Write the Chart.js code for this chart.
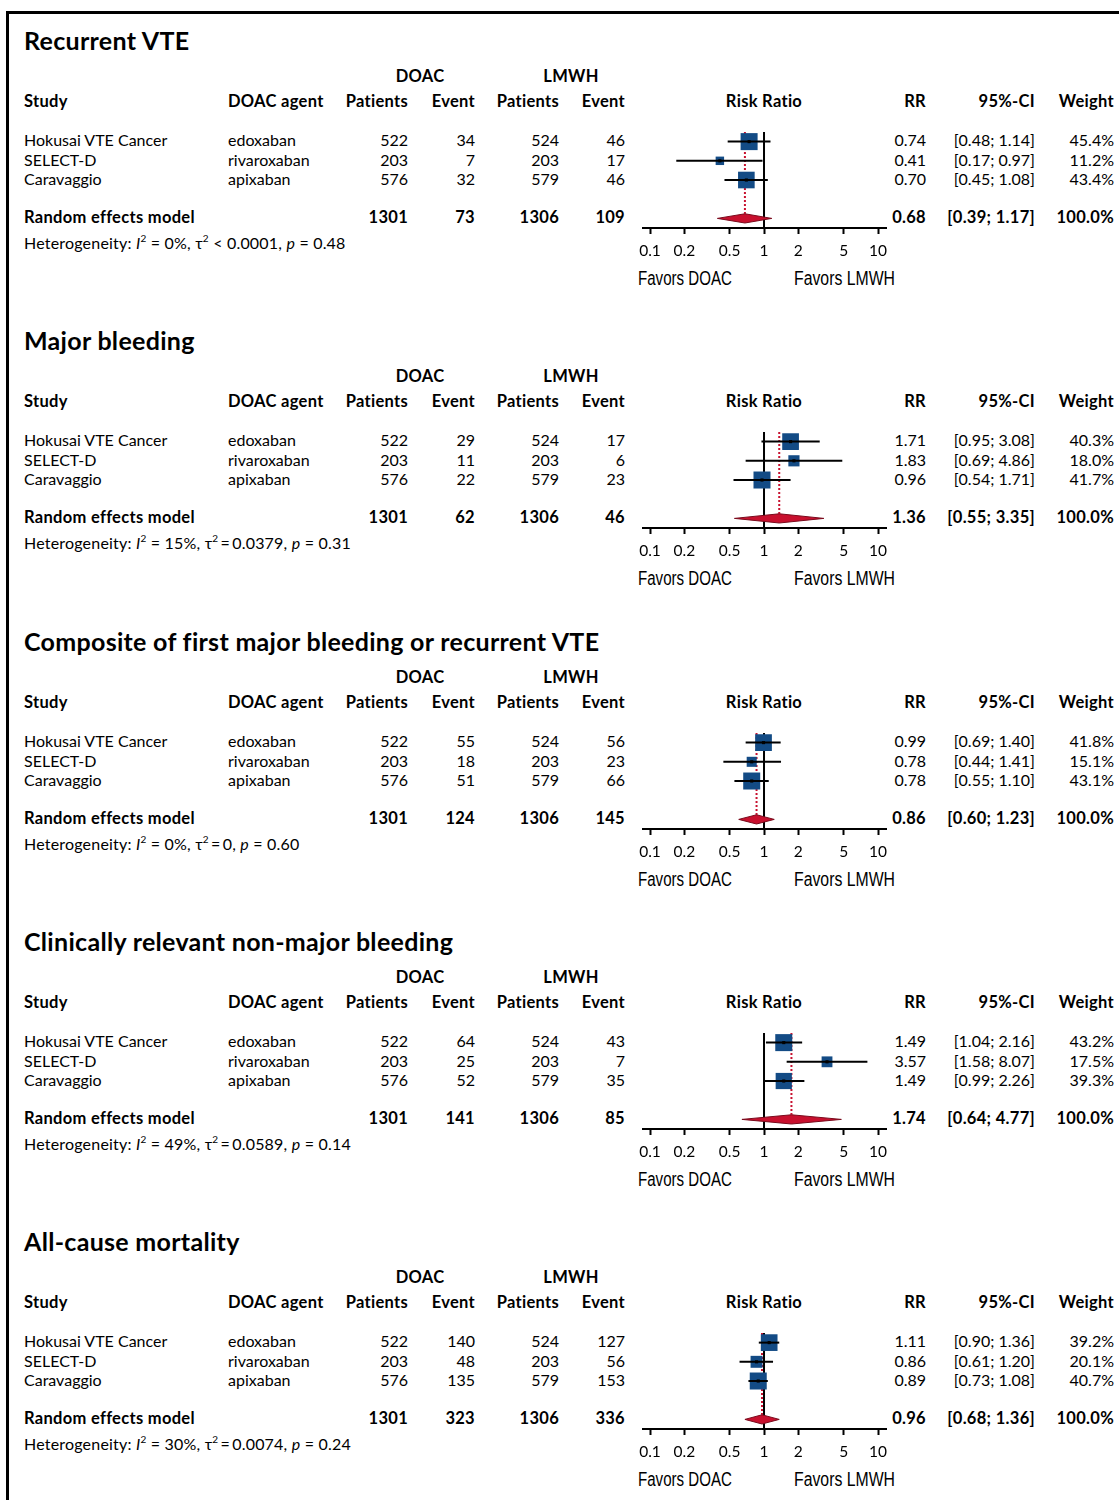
<!DOCTYPE html>
<html>
<head>
<meta charset="utf-8">
<title>DOAC vs LMWH – forest plots</title>
<script src="https://cdn.jsdelivr.net/npm/chart.js@4.4.1/dist/chart.umd.min.js"></script>
<style>
  html, body { margin: 0; padding: 0; background: #fff; }
  #page { position: relative; width: 1119px; height: 1500px; overflow: hidden;
          font-family: Lato, "Open Sans", sans-serif; color: #000; }
  .frame-top { position: absolute; left: 6px; top: 11px; right: 0; height: 3px; background: #000; }
  .frame-left { position: absolute; left: 6px; top: 11px; width: 3px; bottom: 0; background: #000; }
  .t { position: absolute; white-space: nowrap; line-height: 1; transform: translateY(-50%);
       font-size: 16px; }
  .b { font-weight: 700; font-size: 16.5px; letter-spacing: 0.3px; }
  .het { letter-spacing: 0.2px; }
  .title { font-size: 25px; font-weight: 700; letter-spacing: 0.3px; }
  .fav { font-family: "Liberation Sans", Arial, sans-serif; font-size: 20px; transform-origin: 0 50%; }
  .plot { position: absolute; }
  sup { font-size: 10px; line-height: 0; vertical-align: 7px; }
</style>
</head>
<body>
<div id="page">
  <div class="frame-top"></div>
  <div class="frame-left"></div>
</div>
<script>
// ---- data ----
const outcomes = [
  'Recurrent VTE',
  'Major bleeding',
  'Composite of first major bleeding or recurrent VTE',
  'Clinically relevant non-major bleeding',
  'All-cause mortality'
];
const studies = ['Hokusai VTE Cancer', 'SELECT-D', 'Caravaggio'];
const agents = ['edoxaban', 'rivaroxaban', 'apixaban'];
const doacPatients = [522, 203, 576];
const lmwhPatients = [524, 203, 579];
const doacEvents = [[34, 7, 32], [29, 11, 22], [55, 18, 51], [64, 25, 52], [140, 48, 135]];
const lmwhEvents = [[46, 17, 46], [17, 6, 23], [56, 23, 66], [43, 7, 35], [127, 56, 153]];
const riskRatio = [[0.74, 0.41, 0.70], [1.71, 1.83, 0.96], [0.99, 0.78, 0.78], [1.49, 3.57, 1.49], [1.11, 0.86, 0.89]];
const ciLower = [[0.48, 0.17, 0.45], [0.95, 0.69, 0.54], [0.69, 0.44, 0.55], [1.04, 1.58, 0.99], [0.90, 0.61, 0.73]];
const ciUpper = [[1.14, 0.97, 1.08], [3.08, 4.86, 1.71], [1.40, 1.41, 1.10], [2.16, 8.07, 2.26], [1.36, 1.20, 1.08]];
const weights = [[45.4, 11.2, 43.4], [40.3, 18.0, 41.7], [41.8, 15.1, 43.1], [43.2, 17.5, 39.3], [39.2, 20.1, 40.7]];
const pooledRR = [0.68, 1.36, 0.86, 1.74, 0.96];
const pooledLower = [0.39, 0.55, 0.60, 0.64, 0.68];
const pooledUpper = [1.17, 3.35, 1.23, 4.77, 1.36];
const hetI2 = ['0%', '15%', '0%', '49%', '30%'];
const hetTau2 = ['< 0.0001', '= 0.0379', '= 0', '= 0.0589', '= 0.0074'];
const hetP = ['0.48', '0.31', '0.60', '0.14', '0.24'];
const xTicks = [0.1, 0.2, 0.5, 1, 2, 5, 10];

// ---- layout ----
const page = document.getElementById('page');
const panelTops = [0, 300, 601, 901, 1201];
const BLUE = '#134b85';
const RED = '#c8102e';

function put(html, x, y, opts = {}) {
  const el = document.createElement('div');
  el.className = 't ' + (opts.cls || '');
  el.innerHTML = html;
  const align = opts.align || 'left';
  if (align === 'left') {
    el.style.left = x + 'px';
  } else if (align === 'right') {
    el.style.left = (x - 300) + 'px';
    el.style.width = '300px';
    el.style.textAlign = 'right';
  } else {
    el.style.left = (x - 150) + 'px';
    el.style.width = '300px';
    el.style.textAlign = 'center';
  }
  el.style.top = y + 'px';
  page.appendChild(el);
  return el;
}

// condensed caption: squeeze the text horizontally to the given width
function putCondensed(text, x, y, width) {
  const el = put(text, x, y, { cls: 'fav' });
  const w = el.getBoundingClientRect().width;
  el.style.transform = 'translateY(-50%) scaleX(' + (width / w).toFixed(3) + ')';
  return el;
}

const fmt2 = v => v.toFixed(2);
const sum = a => a.reduce((s, v) => s + v, 0);

// column anchors
const X_STUDY = 24, X_AGENT = 228, X_DP = 408, X_DE = 475, X_LP = 559, X_LE = 625;
const X_RR = 926, X_CI = 1035, X_W = 1114;
const ROW_Y = [140, 159.5, 179];

function table(k, top) {
  put(outcomes[k], X_STUDY, top + 40, { cls: 'title' });
  put('DOAC', 420, top + 76, { cls: 'b', align: 'center' });
  put('LMWH', 571, top + 76, { cls: 'b', align: 'center' });
  const hy = top + 101;
  put('Study', X_STUDY, hy, { cls: 'b' });
  put('DOAC agent', X_AGENT, hy, { cls: 'b' });
  put('Patients', X_DP, hy, { cls: 'b', align: 'right' });
  put('Event', X_DE, hy, { cls: 'b', align: 'right' });
  put('Patients', X_LP, hy, { cls: 'b', align: 'right' });
  put('Event', X_LE, hy, { cls: 'b', align: 'right' });
  put('Risk Ratio', 764, hy, { cls: 'b', align: 'center' });
  put('RR', X_RR, hy, { cls: 'b', align: 'right' });
  put('95%-CI', X_CI, hy, { cls: 'b', align: 'right' });
  put('Weight', X_W, hy, { cls: 'b', align: 'right' });

  studies.forEach((s, i) => {
    const y = top + ROW_Y[i];
    put(s, X_STUDY, y);
    put(agents[i], X_AGENT, y);
    put(doacPatients[i], X_DP, y, { align: 'right' });
    put(doacEvents[k][i], X_DE, y, { align: 'right' });
    put(lmwhPatients[i], X_LP, y, { align: 'right' });
    put(lmwhEvents[k][i], X_LE, y, { align: 'right' });
    put(fmt2(riskRatio[k][i]), X_RR, y, { align: 'right' });
    put('[' + fmt2(ciLower[k][i]) + '; ' + fmt2(ciUpper[k][i]) + ']', X_CI, y, { align: 'right' });
    put(weights[k][i].toFixed(1) + '%', X_W, y, { align: 'right' });
  });

  const sy = top + 217;
  put('Random effects model', X_STUDY, sy, { cls: 'b' });
  put(sum(doacPatients), X_DP, sy, { cls: 'b', align: 'right' });
  put(sum(doacEvents[k]), X_DE, sy, { cls: 'b', align: 'right' });
  put(sum(lmwhPatients), X_LP, sy, { cls: 'b', align: 'right' });
  put(sum(lmwhEvents[k]), X_LE, sy, { cls: 'b', align: 'right' });
  put(fmt2(pooledRR[k]), X_RR, sy, { cls: 'b', align: 'right' });
  put('[' + fmt2(pooledLower[k]) + '; ' + fmt2(pooledUpper[k]) + ']', X_CI, sy, { cls: 'b', align: 'right' });
  put('100.0%', X_W, sy, { cls: 'b', align: 'right' });

  const tau = hetTau2[k].startsWith('<')
    ? ' ' + hetTau2[k]
    : hetTau2[k].replace(/^= /, '&thinsp;=&thinsp;');
  put('Heterogeneity: <i>I</i><sup>2</sup> = ' + hetI2[k] + ', &tau;<sup>2</sup>' + tau +
      ', <i>p</i> = ' + hetP[k], X_STUDY, top + 243, { cls: 'het' });

  putCondensed('Favors DOAC', 638, top + 278, 94);
  putCondensed('Favors LMWH', 794, top + 278, 101);
}

// ---- forest plot per outcome ----
const SUMMARY_ROW = 4;
const DIAMOND_HALF = 0.24;
const MAX_SIDE = 17;

function forest(k, top) {
  const box = document.createElement('div');
  box.className = 'plot';
  box.style.left = '620px';
  box.style.top = (top + 120) + 'px';
  box.style.width = '280px';
  box.style.height = '146px';
  const canvas = document.createElement('canvas');
  canvas.width = 280;
  canvas.height = 146;
  box.appendChild(canvas);
  page.appendChild(box);

  const wMax = Math.max(...weights[k]);
  const radii = weights[k].map(w => MAX_SIDE * Math.sqrt(w / wMax) / Math.SQRT2);
  const rows = studies.map((_, i) => i);

  const datasets = [];
  // line of no effect
  datasets.push({
    type: 'line', data: [{ x: 1, y: -0.5 }, { x: 1, y: 4.5 }],
    borderColor: '#000', borderWidth: 2, pointRadius: 0, order: 5
  });
  // pooled estimate reference
  datasets.push({
    type: 'line', data: [{ x: pooledRR[k], y: -0.5 }, { x: pooledRR[k], y: SUMMARY_ROW - DIAMOND_HALF }],
    borderColor: RED, borderWidth: 2, borderDash: [2, 2], pointRadius: 0, order: 6
  });
  // study weights as squares
  datasets.push({
    type: 'scatter', data: rows.map(i => ({ x: riskRatio[k][i], y: i })),
    pointStyle: 'rect', pointRadius: radii, pointBackgroundColor: BLUE,
    pointBorderWidth: 0, order: 4
  });
  // confidence intervals
  rows.forEach(i => {
    datasets.push({
      type: 'line', data: [{ x: ciLower[k][i], y: i }, { x: ciUpper[k][i], y: i }],
      borderColor: '#000', borderWidth: 2, pointRadius: 0, order: 3
    });
  });
  // point estimate marks
  datasets.push({
    type: 'scatter', data: rows.map(i => ({ x: riskRatio[k][i], y: i })),
    pointStyle: 'rect', pointRadius: 2.2, pointBackgroundColor: '#000',
    pointBorderWidth: 0, order: 2
  });
  // pooled diamond
  datasets.push({
    type: 'line',
    data: [
      { x: pooledLower[k], y: SUMMARY_ROW },
      { x: pooledRR[k], y: SUMMARY_ROW - DIAMOND_HALF },
      { x: pooledUpper[k], y: SUMMARY_ROW },
      { x: pooledRR[k], y: SUMMARY_ROW + DIAMOND_HALF },
      { x: pooledLower[k], y: SUMMARY_ROW }
    ],
    borderColor: '#7a0a1c', borderWidth: 1, backgroundColor: RED,
    fill: 'shape', tension: 0, pointRadius: 0, order: 1
  });

  new Chart(canvas, {
    type: 'scatter',
    data: { datasets },
    options: {
      responsive: false,
      animation: false,
      events: [],
      layout: { padding: { left: 23, right: 14, top: 10, bottom: 0 } },
      plugins: { legend: { display: false }, tooltip: { enabled: false } },
      scales: {
        x: {
          type: 'logarithmic',
          min: 0.0868, max: 11.75,
          afterBuildTicks: s => { s.ticks = xTicks.map(v => ({ value: v })); },
          afterFit: s => { s.height = 38; },
          ticks: {
            autoSkip: false, maxRotation: 0, padding: 8, color: '#000',
            font: { family: 'Lato', size: 15.5 },
            callback: v => String(v)
          },
          grid: { display: true, drawOnChartArea: false, drawTicks: true,
                  tickLength: 6, tickWidth: 2, tickColor: '#000' },
          border: { display: true, color: '#000', width: 2 }
        },
        y: {
          type: 'linear', reverse: true, min: -0.5, max: 4.5, display: false
        }
      }
    }
  });
}

panelTops.forEach((top, k) => {
  table(k, top);
  forest(k, top);
});
</script>
</body>
</html>
